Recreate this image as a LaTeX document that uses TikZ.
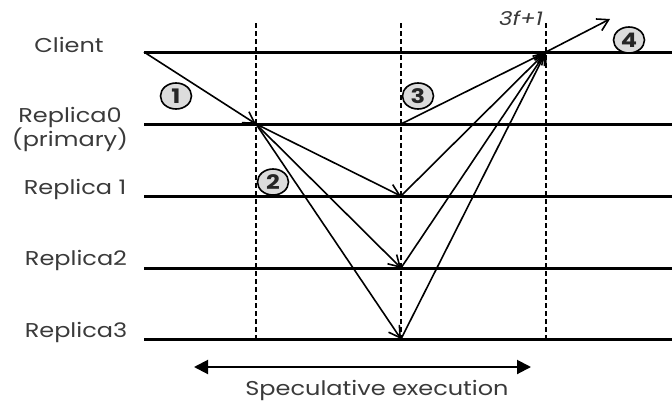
\documentclass[tikz,border=0pt]{standalone}
\usepackage{fontspec}
\setmainfont{Poppins}[FakeStretch=1.2]
\usetikzlibrary{arrows.meta,shapes.geometric}
\definecolor{txt}{HTML}{3A3A3A}
\definecolor{circ}{HTML}{DCDCDC}
\tikzset{
  tl/.style={line width=3pt},
  dl/.style={line width=1.5pt, dash pattern=on 5pt off 3pt},
  msg/.style={line width=1.6pt, -{Straight Barb[length=11pt,width=13pt,line width=1.6pt]}},
  lab/.style={text=txt, font=\fontsize{20}{22}\selectfont, inner sep=0pt},
  num/.style={ellipse, draw, line width=1.6pt, fill=circ, minimum width=31pt, minimum height=26pt, inner sep=0pt, font=\fontsize{20}{20}\selectfont\bfseries, text=black!85},
  span/.style={line width=2pt, {Triangle[length=14pt,width=14pt]}-{Triangle[length=14pt,width=14pt]}}
}
\begin{document}
\begin{tikzpicture}[x=1pt,y=-1pt]
\useasboundingbox (0,0) rectangle (672,405);
% timelines
\coordinate (c0) at (144,52);  \coordinate (c1) at (672,52);
\coordinate (r00) at (144,124); \coordinate (r01) at (672,124);
\coordinate (r10) at (144,196); \coordinate (r11) at (672,196);
\coordinate (r20) at (144,268); \coordinate (r21) at (672,268);
\coordinate (r30) at (144,339); \coordinate (r31) at (672,339);
\draw[tl] (c0) -- (c1);
\draw[tl] (r00) -- (r01);
\draw[tl] (r10) -- (r11);
\draw[tl] (r20) -- (r21);
\draw[tl] (r30) -- (r31);
% dashed phase lines
\coordinate (d1t) at (256,23); \coordinate (d1b) at (256,339);
\coordinate (d2t) at (401,23); \coordinate (d2b) at (401,339);
\coordinate (d3t) at (546,23); \coordinate (d3b) at (546,339);
\draw[dl] (d1t) -- (d1b);
\draw[dl] (d2t) -- (d2b);
\draw[dl] (d3t) -- (d3b);
% event points
\coordinate (p0) at (256,124);
\coordinate (q0) at (401,124);
\coordinate (q1) at (401,196);
\coordinate (q2) at (401,268);
\coordinate (q3) at (401,339);
\coordinate (cr) at (546,52);
\coordinate (out) at (610,19);
% messages
\draw[msg] (c0) -- (p0);
\draw[msg] (p0) -- (q1);
\draw[msg] (p0) -- (q2);
\draw[msg] (p0) -- (q3);
\draw[msg] (q0) -- (cr);
\draw[msg] (q1) -- (cr);
\draw[msg] (q2) -- (cr);
\draw[msg] (q3) -- (cr);
\draw[msg] (cr) -- (out);
% labels
\node[lab] (lc) at (69,45) {Client};
\node[lab] (l0) at (70,117) {Replica0};
\node[lab] (l0b) at (70,140) {(primary)};
\node[lab] (l1) at (75,189) {Replica 1};
\node[lab] (l2) at (76,260) {Replica2};
\node[lab] (l3) at (76,332) {Replica3};
\node[lab, font=\fontsize{19}{19}\selectfont\itshape] (f) at (521,18) {3f+1};
% circled numbers
\node[num] (n1) at (176,96) {1};
\node[num] (n2) at (273,182) {2};
\node[num] (n3) at (418,96) {3};
\node[num] (n4) at (629,40) {4};
% span arrow
\coordinate (s0) at (194,367); \coordinate (s1) at (531,367);
\draw[span] (s0) -- (s1);
\node[lab] (sp) at (377,390) {Speculative execution};
\end{tikzpicture}
\end{document}
